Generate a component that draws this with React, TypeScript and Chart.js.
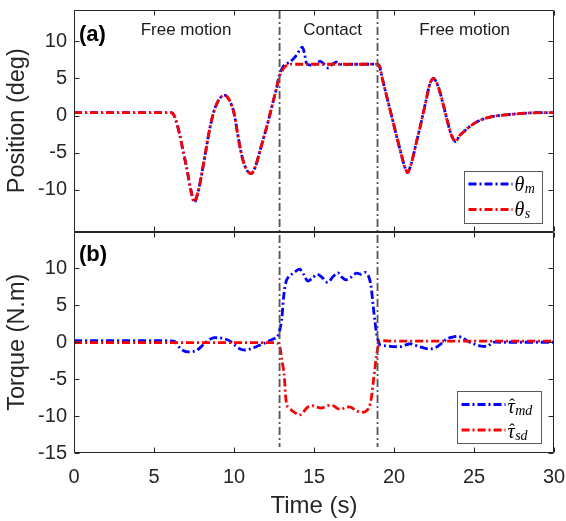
import React, { useEffect, useRef } from 'react';
import { Chart, registerables } from 'chart.js';

Chart.register(...registerables);

// ---------- data ----------
const tTheta = [
  0, 1, 2, 3, 4, 5, 6.0, 6.15, 6.3, 6.6, 6.8, 7.04, 7.3, 7.52, 7.75, 7.98, 8.25, 8.5, 8.75, 9.02, 9.25, 9.48, 9.7, 9.96,
  10.2, 10.38, 10.6, 10.85, 11.1, 11.35, 11.63, 11.85, 12.04, 12.25, 12.46, 12.65, 12.83, 13.0, 13.2, 13.5, 13.9,
  14.1, 14.27, 14.4, 14.54, 14.75, 14.96, 15.2, 15.4, 15.65, 15.9, 16.15, 16.4, 16.7, 17.5, 18.5, 19.0, 19.1, 19.3,
  19.6, 19.9, 20.2, 20.5, 20.7, 20.86, 21.1, 21.4, 21.7, 22.0, 22.25, 22.46, 22.65, 22.88, 23.1, 23.3, 23.6, 23.86,
  24.1, 24.4, 24.75, 25.1, 25.6, 26.2, 26.8, 27.5, 28.5, 29.3, 30,
];
const thetaS = [
  0.4, 0.4, 0.4, 0.4, 0.4, 0.4, 0.4, 0.35, -0.2, -2.5, -4.6, -7.0, -10.0, -11.6, -10.3, -7.9, -4.6, -1.6, 0.6, 2.0, 2.6, 2.7, 2.1, 0.7,
  -2.1, -4.3, -6.3, -7.5, -7.8, -6.8, -4.7, -3.0, -1.6, 0.2, 2.0, 3.6, 5.2, 6.0, 6.6, 6.9, 6.9,
  6.9, 6.9, 6.9, 6.9, 6.9, 6.9, 6.9, 6.9, 6.9, 6.9, 6.9, 6.9, 6.9, 6.9, 6.9, 6.9, 6.6, 4.7,
  2.1, -0.5, -3.1, -5.6, -7.1, -7.65, -6.3, -3.6, -0.9, 2.0, 4.3, 5.0, 4.5, 3.1, 1.3, -0.45, -2.7, -3.5,
  -2.7, -2.1, -1.45, -0.95, -0.45, -0.1, 0.05, 0.2, 0.35, 0.4, 0.4,
];
const thetaM = [
  0.4, 0.4, 0.4, 0.4, 0.4, 0.4, 0.4, 0.35, -0.2, -2.5, -4.6, -7.0, -10.0, -11.7, -10.3, -7.9, -4.6, -1.6, 0.6, 2.0, 2.6, 2.7, 2.1, 0.7,
  -2.1, -4.3, -6.3, -7.5, -7.8, -6.8, -4.7, -3.0, -1.6, 0.2, 2.0, 3.6, 5.4, 6.3, 6.9, 7.2, 8.1,
  8.8, 9.2, 8.4, 7.0, 6.8, 6.75, 7.1, 7.3, 6.9, 6.4, 6.9, 7.2, 6.9, 6.9, 6.9, 6.9, 6.6, 4.7,
  2.1, -0.5, -3.1, -5.6, -7.1, -7.65, -6.3, -3.6, -0.9, 2.0, 4.3, 5.0, 4.5, 3.1, 1.3, -0.45, -2.7, -3.5,
  -2.7, -2.1, -1.45, -0.95, -0.45, -0.1, 0.05, 0.2, 0.35, 0.4, 0.4,
];

const tTau = [
  0, 1, 2, 3, 4, 5, 6, 6.3, 6.63, 6.9, 7.15, 7.45, 7.67, 7.95, 8.19, 8.45, 8.7, 9.0, 9.23, 9.5, 9.75, 10.05, 10.38,
  10.69, 10.95, 11.2, 11.55, 11.94, 12.2, 12.46, 12.7, 12.85, 12.98, 13.13, 13.3, 13.6, 13.85, 14.1, 14.35, 14.6,
  14.9, 15.2, 15.5, 15.85, 16.2, 16.5, 16.75, 17.0, 17.3, 17.65, 17.95, 18.2, 18.4, 18.55, 18.7, 18.8, 18.9, 19.0,
  19.1, 19.4, 19.75, 20.1, 20.4, 20.7, 21.0, 21.3, 21.6, 21.9, 22.15, 22.4, 22.67, 23.0, 23.3, 23.65, 24.0, 24.3,
  24.6, 24.95, 25.3, 25.55, 25.8, 26.0, 26.2, 26.6, 27, 28, 29, 30,
];
const tauMd = [
  0.2, 0.2, 0.2, 0.2, 0.2, 0.2, 0.2, 0.1, -0.8, -1.2, -1.3, -1.25, -1.1, -0.6, -0.1, 0.35, 0.6, 0.6, 0.55, 0.4, 0.15, -0.4, -0.9,
  -1.05, -0.95, -0.77, -0.45, -0.1, 0.2, 0.45, 0.7, 1.6, 3.1, 6.7, 8.5, 9.2, 9.6, 9.9, 9.2, 8.3,
  8.7, 9.2, 8.8, 8.1, 8.9, 9.4, 8.8, 8.45, 8.8, 9.35, 9.2, 9.45, 9.0, 7.8, 4.9, 3.0, 1.3, 0.3,
  -0.3, -0.45, -0.55, -0.6, -0.6, -0.4, -0.2, -0.4, -0.6, -0.8, -0.9, -0.85, -0.65, -0.1, 0.45, 0.7, 0.8, 0.6,
  0.15, -0.2, -0.45, -0.55, -0.55, -0.3, 0.0, 0.0, 0.0, 0.0, 0.0, 0.0,
];
const tauSd = [
  -0.05, -0.05, -0.05, -0.05, -0.05, -0.05, -0.05, -0.05, -0.05, -0.05, -0.05, -0.05, -0.05, -0.05, -0.05, -0.05, -0.05, -0.05, -0.05, -0.05, -0.05, -0.05, -0.05,
  -0.05, -0.05, -0.05, -0.05, -0.05, -0.05, -0.05, -0.1, -0.5, -2.2, -4.3, -8.5, -9.2, -9.6, -9.85, -9.4, -8.8,
  -8.6, -8.8, -8.9, -8.6, -8.6, -9.0, -9.05, -8.8, -8.8, -9.3, -9.45, -9.4, -9.0, -8.0, -5.5, -3.7, -1.9, -0.6,
  0.15, 0.2, 0.15, 0.15, 0.15, 0.15, 0.15, 0.15, 0.15, 0.15, 0.15, 0.15, 0.15, 0.15, 0.15, 0.15, 0.15, 0.15,
  0.15, 0.15, 0.15, 0.15, 0.15, 0.15, 0.15, 0.15, 0.15, 0.15, 0.15, 0.15,
];

const xTicks = [0, 5, 10, 15, 20, 25, 30];
const posTicks = [-10, -5, 0, 5, 10];
const torqueTicks = [-15, -10, -5, 0, 5, 10];
const contactTimes = [12.85, 18.97];
const phaseLabels = ['Free motion', 'Contact', 'Free motion'];
const phaseCenters = [7.0, 16.16, 24.42];

const BLUE = '#0000ff';
const RED = '#ff0000';
const AX = '#262626';
const DASH = [8, 3, 2, 3];

const pts = (t: number[], v: number[]) => t.map((x, i) => ({ x, y: v[i] }));

function drawSymbol(ctx: CanvasRenderingContext2D, x: number, y: number, main: string, sub: string, hat: boolean) {
  ctx.fillStyle = '#000';
  ctx.textAlign = 'left';
  ctx.textBaseline = 'alphabetic';
  ctx.font = "italic 20px 'Liberation Serif', 'DejaVu Serif', serif";
  ctx.fillText(main, x, y);
  const w = ctx.measureText(main).width;
  if (hat) {
    ctx.font = "17px 'Liberation Serif', 'DejaVu Serif', serif";
    ctx.textAlign = 'center';
    ctx.fillText('\u02C6', x + w / 2 + 1, y - 3);
    ctx.textAlign = 'left';
  }
  ctx.font = "italic 14px 'Liberation Serif', 'DejaVu Serif', serif";
  ctx.fillText(sub, x + w + 0.5, y + 2);
}

function drawLegend(
  ctx: CanvasRenderingContext2D,
  left: number,
  top: number,
  w: number,
  h: number,
  entries: { color: string; main: string; sub: string; hat: boolean }[],
  textDy: number
) {
  ctx.save();
  ctx.fillStyle = '#fff';
  ctx.fillRect(left, top, w, h);
  ctx.strokeStyle = '#5a5a5a';
  ctx.lineWidth = 1;
  ctx.setLineDash([]);
  ctx.strokeRect(Math.round(left) + 0.5, Math.round(top) + 0.5, Math.round(w), Math.round(h));
  entries.forEach((e, i) => {
    const ly = top + 13.5 + i * 25.5;
    ctx.strokeStyle = e.color;
    ctx.lineWidth = 2.8;
    ctx.setLineDash(DASH);
    ctx.beginPath();
    ctx.moveTo(left + 5, ly);
    ctx.lineTo(left + 49, ly);
    ctx.stroke();
    ctx.setLineDash([]);
    drawSymbol(ctx, left + 51, ly + textDy, e.main, e.sub, e.hat);
  });
  ctx.restore();
}

const decorPlugin = {
  id: 'decor',
  afterDatasetsDraw(chart: any) {
    const { ctx, chartArea: a, scales } = chart;
    const x = scales.x;
    ctx.save();

    // contact boundaries
    ctx.strokeStyle = '#555555';
    ctx.lineWidth = 1.8;
    ctx.setLineDash([8, 3, 2, 3]);
    for (const t of contactTimes) {
      const px = x.getPixelForValue(t);
      ctx.beginPath();
      ctx.moveTo(px, a.top + 1);
      ctx.lineTo(px, a.bottom - 6);
      ctx.stroke();
    }
    ctx.setLineDash([]);

    // boxes with inward ticks
    ctx.strokeStyle = AX;
    ctx.lineWidth = 1;
    const L = Math.round(a.left) + 0.5;
    const R = Math.round(a.right) - 0.5;
    for (const id of ['yTop', 'yBot']) {
      const s = scales[id];
      const T = Math.round(s.top) + 0.5;
      const B = Math.round(s.bottom) - 0.5;
      ctx.beginPath();
      ctx.rect(L, T, R - L, B - T);
      for (const v of xTicks) {
        const px = Math.round(x.getPixelForValue(v)) + 0.5;
        ctx.moveTo(px, B);
        ctx.lineTo(px, B - 5);
        ctx.moveTo(px, T);
        ctx.lineTo(px, T + 5);
      }
      for (const tk of s.ticks) {
        const py = Math.round(s.getPixelForValue(tk.value)) + 0.5;
        ctx.moveTo(L, py);
        ctx.lineTo(L + 5, py);
        ctx.moveTo(R, py);
        ctx.lineTo(R - 5, py);
      }
      ctx.stroke();
    }

    // panel tags and phase labels
    const yt = scales.yTop;
    const yb = scales.yBot;
    ctx.fillStyle = '#000';
    ctx.textAlign = 'left';
    ctx.textBaseline = 'alphabetic';
    ctx.font = "bold 22px 'Liberation Sans', Arial, sans-serif";
    ctx.fillText('(a)', a.left + 5, yt.top + 30.5);
    ctx.fillText('(b)', a.left + 5, yb.top + 29);
    ctx.font = "17px 'Liberation Sans', Arial, sans-serif";
    ctx.fillStyle = '#1a1a1a';
    ctx.textAlign = 'center';
    phaseLabels.forEach((lab, i) => {
      ctx.fillText(lab, x.getPixelForValue(phaseCenters[i]), yt.top + 25);
    });

    // legends
    drawLegend(
      ctx, a.right - 90.5, yt.bottom - 61, 78, 52,
      [
        { color: BLUE, main: '\u03B8', sub: 'm', hat: false },
        { color: RED, main: '\u03B8', sub: 's', hat: false },
      ],
      6.5
    );
    drawLegend(
      ctx, a.right - 97.5, yb.bottom - 62, 84, 52,
      [
        { color: BLUE, main: '\u03C4', sub: 'md', hat: true },
        { color: RED, main: '\u03C4', sub: 'sd', hat: true },
      ],
      8
    );
    ctx.restore();
  },
};

export default function App() {
  const ref = useRef<HTMLCanvasElement>(null);

  useEffect(() => {
    if (!ref.current) return;
    Chart.defaults.font.family = "'Liberation Sans', Arial, sans-serif";
    const line = (label: string, data: any, color: string, yAxisID: string, order: number) => ({
      label,
      data,
      borderColor: color,
      backgroundColor: color,
      borderWidth: 2.8,
      borderDash: DASH,
      borderCapStyle: 'butt',
      pointRadius: 0,
      tension: 0.3,
      fill: false,
      yAxisID,
      order,
    });
    const fitY = (s: any) => {
      s.width = 74;
      s.paddingTop = 0;
      s.paddingBottom = 0;
    };
    const chart = new Chart(ref.current, {
      type: 'line',
      data: {
        datasets: [
          line('theta_s', pts(tTheta, thetaS), RED, 'yTop', 0),
          line('theta_m', pts(tTheta, thetaM), BLUE, 'yTop', 1),
          line('tau_sd', pts(tTau, tauSd), RED, 'yBot', 2),
          line('tau_md', pts(tTau, tauMd), BLUE, 'yBot', 3),
        ] as any,
      },
      options: {
        animation: false,
        responsive: false,
        devicePixelRatio: 1,
        layout: { padding: { top: 10, right: 12, bottom: 0, left: 0 } },
        plugins: { legend: { display: false }, tooltip: { enabled: false } },
        scales: {
          x: {
            type: 'linear',
            position: 'bottom',
            min: 0,
            max: 30,
            grid: { display: false, drawTicks: false },
            border: { display: false },
            afterBuildTicks: (s: any) => { s.ticks = xTicks.map((v) => ({ value: v })); },
            afterFit: (s: any) => {
              s.height = 68;
              s.paddingLeft = 0;
              s.paddingRight = 0;
            },
            ticks: { color: AX, font: { size: 20 }, padding: 12, autoSkip: false, maxRotation: 0 },
            title: { display: true, text: 'Time (s)', color: AX, font: { size: 24 }, padding: { top: 0, bottom: 0 } },
          },
          yBot: {
            type: 'linear',
            position: 'left',
            stack: 'panels',
            stackWeight: 1,
            min: -15,
            max: 15,
            grid: { display: false, drawTicks: false },
            border: { display: false },
            afterBuildTicks: (s: any) => { s.ticks = torqueTicks.map((v) => ({ value: v })); },
            afterFit: fitY,
            ticks: { color: AX, font: { size: 20 }, padding: 7, autoSkip: false },
            title: { display: true, text: 'Torque (N.m)', color: AX, font: { size: 23.5 }, padding: { top: 3.5, bottom: 0 } },
          },
          yTop: {
            type: 'linear',
            position: 'left',
            stack: 'panels',
            stackWeight: 1,
            min: -15.6,
            max: 14.2,
            grid: { display: false, drawTicks: false },
            border: { display: false },
            afterBuildTicks: (s: any) => { s.ticks = posTicks.map((v) => ({ value: v })); },
            afterFit: fitY,
            ticks: { color: AX, font: { size: 20 }, padding: 7, autoSkip: false },
            title: { display: true, text: 'Position (deg)', color: AX, font: { size: 23.5 }, padding: { top: 3.5, bottom: 0 } },
          },
        } as any,
      },
      plugins: [decorPlugin],
    });
    return () => chart.destroy();
  }, []);

  return (
    <div style={{ position: 'fixed', left: 0, top: 0, width: 566, height: 521, background: '#fff' }}>
      <canvas ref={ref} width={566} height={521} style={{ display: 'block', width: 566, height: 521 }} />
    </div>
  );
}
